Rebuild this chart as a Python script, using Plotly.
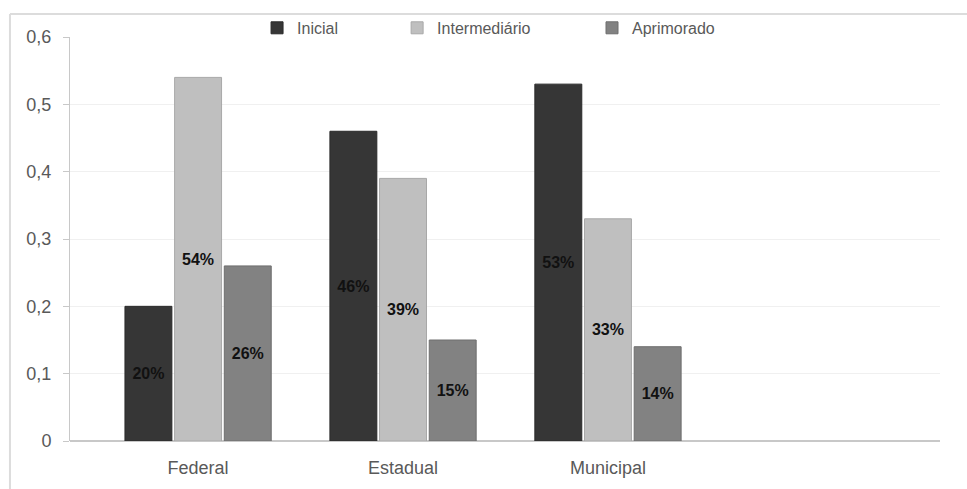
import plotly.graph_objects as go

categories = ["Federal", "Estadual", "Municipal"]
series_names = ["Inicial", "Intermediário", "Aprimorado"]
inicial = [0.20, 0.46, 0.53]
intermediario = [0.54, 0.39, 0.33]
aprimorado = [0.26, 0.15, 0.14]
labels_inicial = ["20%", "46%", "53%"]
labels_intermediario = ["54%", "39%", "33%"]
labels_aprimorado = ["26%", "15%", "14%"]
y_tickvals = [0, 0.1, 0.2, 0.3, 0.4, 0.5, 0.6]
y_ticktext = ["0", "0,1", "0,2", "0,3", "0,4", "0,5", "0,6"]

colors = ["#363636", "#bfbfbf", "#828282"]
line_colors = ["#2a2a2a", "#a8a8a8", "#6e6e6e"]
legend_ids = ["legend", "legend2", "legend3"]

fig = go.Figure()
for name, vals, labs, col, lcol, lg in zip(
    series_names,
    [inicial, intermediario, aprimorado],
    [labels_inicial, labels_intermediario, labels_aprimorado],
    colors, line_colors, legend_ids,
):
    fig.add_trace(go.Bar(
        name=name, x=categories, y=vals, text=labs,
        textposition="inside", insidetextanchor="middle",
        textfont=dict(family="Liberation Sans", size=16, color="#111111", weight="bold"),
        marker=dict(color=col, line=dict(color=lcol, width=1)),
        legend=lg, textangle=0, showlegend=True,
    ))

leg_common = dict(orientation="h", yanchor="middle", y=1.02, xanchor="left",
                  bgcolor="rgba(0,0,0,0)", font=dict(family="Liberation Sans", size=16, color="#595959"),
                  itemwidth=30, tracegroupgap=0, visible=True)

fig.update_layout(
    width=967, height=489,
    margin=dict(l=70, r=27, t=36, b=48),
    paper_bgcolor="white", plot_bgcolor="white",
    barmode="group", bargap=0.273, bargroupgap=0.055,
    separators=",.",
    showlegend=True,
    font=dict(family="Liberation Sans", color="#595959"),
    legend=dict(x=0.215, **leg_common),
    legend2=dict(x=0.376, **leg_common),
    legend3=dict(x=0.600, **leg_common),
    xaxis=dict(
        type="category", categoryarray=categories, range=[-0.625, 3.62],
        showgrid=False, showline=False, zeroline=False, ticks="",
        tickfont=dict(size=18, color="#595959"), ticklabelstandoff=14,
    ),
    yaxis=dict(
        range=[0, 0.6], tickvals=y_tickvals, ticktext=y_ticktext,
        showgrid=True, gridcolor="#f0f0f0", gridwidth=1,
        showline=True, linecolor="#c8c8c8", linewidth=1,
        ticks="outside", ticklen=6, tickcolor="#c8c8c8",
        zeroline=True, zerolinecolor="#c8c8c8", zerolinewidth=2,
        tickfont=dict(size=18, color="#595959"), ticklabelstandoff=8,
    ),
    shapes=[
        dict(type="line", xref="paper", yref="paper", x0=-0.069, x1=1.04, y0=1.057, y1=1.057,
             line=dict(color="#dcdcdc", width=2)),
        dict(type="line", xref="paper", yref="paper", x0=-0.069, x1=-0.069, y0=1.057, y1=-0.12,
             line=dict(color="#dcdcdc", width=2)),
    ],
)

fig.write_html("out.html")
